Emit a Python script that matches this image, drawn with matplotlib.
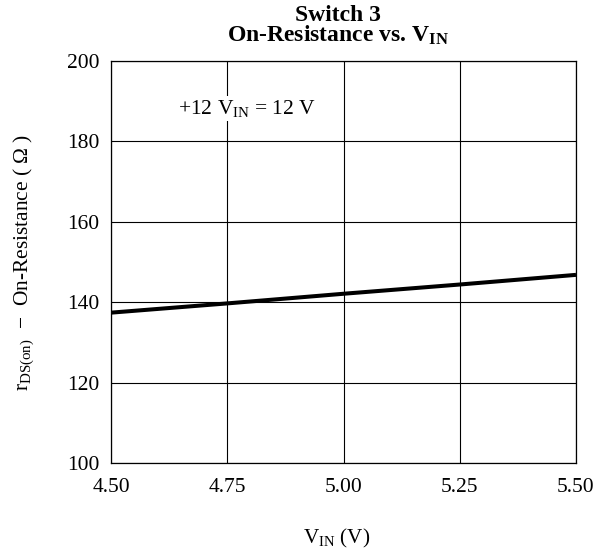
import matplotlib
matplotlib.use("Agg")
import matplotlib.pyplot as plt

# data
vin = [4.50, 4.75, 5.00, 5.25, 5.50]
r_on = [137.4, 139.7, 142.1, 144.4, 146.8]
xticks = [4.50, 4.75, 5.00, 5.25, 5.50]
yticks = [100, 120, 140, 160, 180, 200]

plt.rcParams["font.family"] = ["Liberation Serif", "DejaVu Serif"]
plt.rcParams["mathtext.fontset"] = "custom"
plt.rcParams["mathtext.rm"] = "Liberation Serif"

W, H = 611, 556
fig = plt.figure(figsize=(W / 100, H / 100), dpi=100)
ax = fig.add_axes([111 / W, 1 - 463 / H, 465 / W, 402 / H])

ax.plot(vin, r_on, color="black", lw=2.9, solid_capstyle="butt", zorder=4)

ax.set_xlim(4.5, 5.5)
ax.set_ylim(100, 200)
ax.set_xticks(xticks)
ax.set_xticklabels([f"{v:.2f}" for v in xticks])
ax.set_yticks(yticks)
ax.grid(True, color="black", lw=0.8)
ax.tick_params(length=0, labelsize=15.5)
ax.tick_params(axis="x", pad=11)
ax.tick_params(axis="y", pad=8.5)
for s in ax.spines.values():
    s.set_linewidth(0.9)

ax.text(4.644, 186.9, r"+12 V$\mathregular{_{IN}}$ = 12 V", fontsize=15.5,
        ha="left", va="baseline", zorder=5,
        bbox=dict(facecolor="white", edgecolor="none", pad=1.5))

ax.set_xlabel(r"V$\mathregular{_{IN}}$ (V)", fontsize=15.2)
ax.xaxis.set_label_coords((337 - 111) / 465, -0.159)
ax.set_ylabel(r"r$\mathregular{_{DS(on)}}$  $-$  On-Resistance ( Ω )", fontsize=15.4, labelpad=22)

# two-line bold title
fig.text(338 / W, 1 - 21 / H, "Switch 3", fontsize=17, fontweight="bold",
         ha="center", va="baseline")
fig.text(338 / W, 1 - 42 / H, r"On-Resistance vs. V$\mathregular{_{IN}}$", fontsize=17,
         fontweight="bold", ha="center", va="baseline")

fig.savefig("out.png", dpi=100)
